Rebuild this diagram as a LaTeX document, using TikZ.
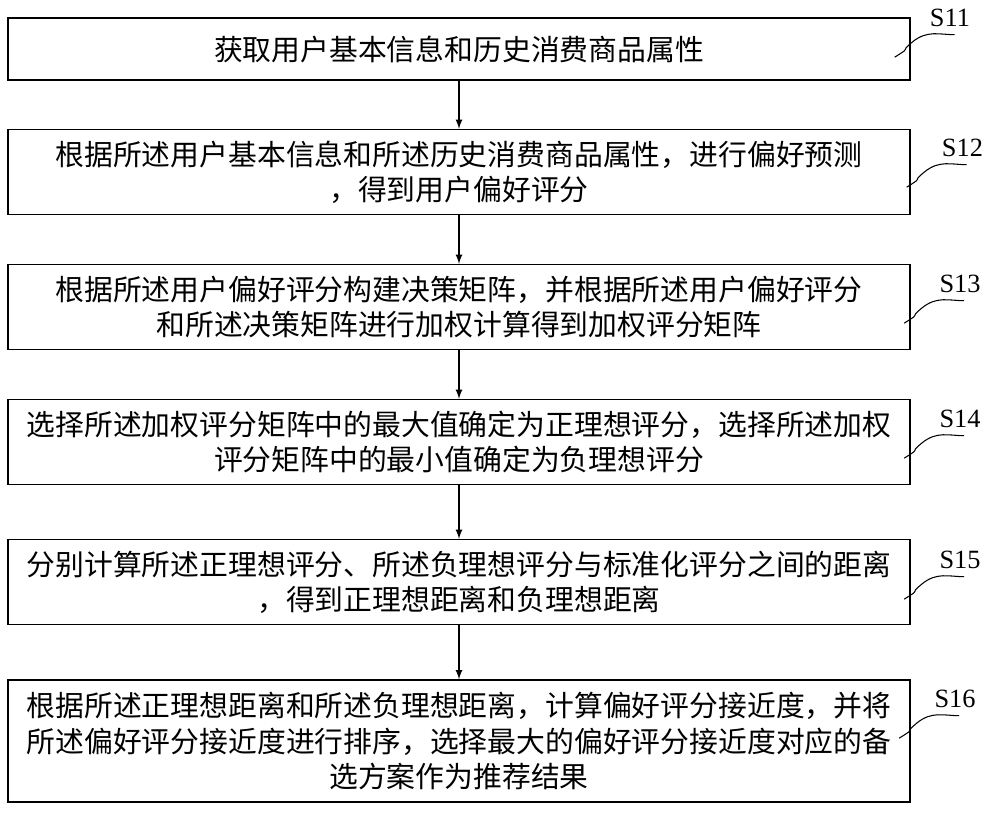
\documentclass[tikz,border=0pt]{standalone}
\usepackage{fontspec}
\setmainfont{Liberation Serif}
\newfontfamily\cjk{Noto Sans CJK SC}
\usetikzlibrary{positioning}
\tikzset{
  stepbox/.style={draw, line width=0.8pt, minimum width=18.04cm, align=center,
    font=\cjk\fontsize{16.4}{20}\selectfont, inner sep=0pt},
  tag/.style={font=\fontsize{15}{18}\selectfont, inner sep=0pt},
  wave/.style={line width=0.6pt},
  flow/.style={-latex, line width=0.8pt}
}
\begin{document}
\begin{tikzpicture}
  \useasboundingbox (0,0) rectangle (20,-16.28);
  % boxes
  \node[stepbox, minimum height=1.24cm] (b1) at (9.18,-0.98) {获取用户基本信息和历史消费商品属性};
  \node[stepbox, minimum height=1.7cm] (b2) at (9.18,-3.44) {根据所述用户基本信息和所述历史消费商品属性，进行偏好预测\\，得到用户偏好评分};
  \node[stepbox, minimum height=1.7cm] (b3) at (9.18,-6.14) {根据所述用户偏好评分构建决策矩阵，并根据所述用户偏好评分\\和所述决策矩阵进行加权计算得到加权评分矩阵};
  \node[stepbox, minimum height=1.7cm] (b4) at (9.18,-8.84) {选择所述加权评分矩阵中的最大值确定为正理想评分，选择所述加权\\评分矩阵中的最小值确定为负理想评分};
  \node[stepbox, minimum height=1.7cm] (b5) at (9.18,-11.64) {分别计算所述正理想评分、所述负理想评分与标准化评分之间的距离\\，得到正理想距离和负理想距离};
  \node[stepbox, minimum height=2.44cm] (b6) at (9.18,-14.82) {根据所述正理想距离和所述负理想距离，计算偏好评分接近度，并将\\所述偏好评分接近度进行排序，选择最大的偏好评分接近度对应的备\\选方案作为推荐结果};
  % arrows
  \foreach \a/\b in {b1/b2, b2/b3, b3/b4, b4/b5, b5/b6}
    \draw[flow] (\a) -- (\b);
  % step tags
  \node[tag] (s1) at (19.0,-0.36) {S11};
  \node[tag] (s2) at (19.25,-2.96) {S12};
  \node[tag] (s3) at (19.2,-5.68) {S13};
  \node[tag] (s4) at (19.2,-8.38) {S14};
  \node[tag] (s5) at (19.2,-11.2) {S15};
  \node[tag] (s6) at (19.1,-13.98) {S16};
  \foreach \s in {1,...,6}
    \draw[wave] ([xshift=-0.7cm,yshift=-0.6cm]s\s.south west) .. controls +(0.4,0.25) and +(-0.3,-0.25) .. ([xshift=-0.35cm,yshift=-0.3cm]s\s.south west)
      .. controls +(0.3,0.25) and +(-0.3,0) .. ([xshift=0.5cm,yshift=-0.15cm]s\s.south west);
\end{tikzpicture}
\end{document}
